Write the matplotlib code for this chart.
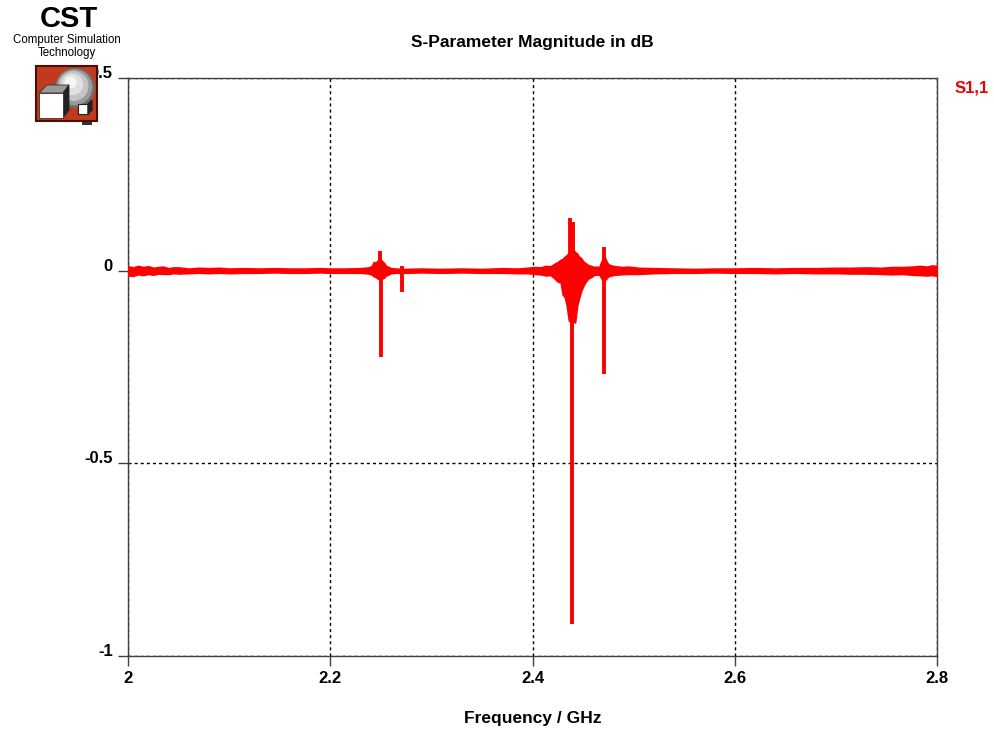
import matplotlib
matplotlib.use("Agg")
import matplotlib.pyplot as plt
from matplotlib.patches import Rectangle, Circle, Polygon

plt.rcParams['font.family'] = ['Liberation Sans', 'DejaVu Sans']

# S1,1 trace: upper / lower extent of the rapidly oscillating curve (dB)
freq_ghz = [2.000, 2.005, 2.010, 2.015, 2.020, 2.025, 2.030, 2.035, 2.040, 2.045,
            2.050, 2.060, 2.070, 2.080, 2.090, 2.100, 2.115, 2.130, 2.145, 2.160,
            2.175, 2.190, 2.200, 2.215, 2.230, 2.238, 2.2413, 2.243, 2.245, 2.247,
            2.249, 2.2515, 2.253, 2.255, 2.257, 2.260, 2.265, 2.275, 2.290, 2.310,
            2.330, 2.350, 2.370, 2.385, 2.395, 2.402, 2.408, 2.413, 2.418, 2.422,
            2.425, 2.428, 2.430, 2.432, 2.434, 2.436, 2.438, 2.440, 2.442, 2.444,
            2.446, 2.448, 2.450, 2.452, 2.455, 2.458, 2.461, 2.464, 2.466, 2.468,
            2.4695, 2.4715, 2.473, 2.475, 2.478, 2.482, 2.488, 2.495, 2.505, 2.520,
            2.540, 2.560, 2.580, 2.600, 2.620, 2.640, 2.660, 2.680, 2.700, 2.715,
            2.730, 2.745, 2.755, 2.765, 2.775, 2.783, 2.790, 2.795, 2.800]
s11_upper = [0.011, 0.008, 0.012, 0.009, 0.011, 0.007, 0.009, 0.010, 0.006, 0.008,
             0.008, 0.005, 0.007, 0.006, 0.007, 0.005, 0.006, 0.005, 0.006, 0.005,
             0.005, 0.006, 0.005, 0.005, 0.006, 0.008, 0.012, 0.022, 0.020, 0.026,
             0.030, 0.024, 0.020, 0.012, 0.010, 0.006, 0.005, 0.004, 0.005, 0.004,
             0.005, 0.004, 0.006, 0.005, 0.007, 0.009, 0.008, 0.012, 0.011, 0.018,
             0.022, 0.028, 0.030, 0.036, 0.040, 0.046, 0.050, 0.055, 0.048, 0.044,
             0.036, 0.032, 0.024, 0.020, 0.014, 0.012, 0.009, 0.010, 0.008, 0.022,
             0.030, 0.034, 0.024, 0.016, 0.013, 0.011, 0.009, 0.010, 0.007, 0.006,
             0.005, 0.004, 0.005, 0.005, 0.006, 0.005, 0.006, 0.006, 0.007, 0.007,
             0.008, 0.007, 0.009, 0.009, 0.010, 0.012, 0.010, 0.013, 0.012]
s11_lower = [-0.012, -0.013, -0.009, -0.011, -0.008, -0.010, -0.007, -0.008, -0.008, -0.006,
             -0.007, -0.006, -0.005, -0.006, -0.005, -0.006, -0.005, -0.005, -0.004, -0.005,
             -0.005, -0.004, -0.005, -0.005, -0.005, -0.007, -0.010, -0.014, -0.016, -0.020,
             -0.022, -0.020, -0.018, -0.012, -0.010, -0.006, -0.005, -0.005, -0.004, -0.005,
             -0.004, -0.005, -0.005, -0.006, -0.006, -0.008, -0.009, -0.012, -0.011, -0.020,
             -0.028, -0.030, -0.062, -0.068, -0.090, -0.128, -0.135, -0.132, -0.134, -0.090,
             -0.070, -0.052, -0.040, -0.030, -0.020, -0.016, -0.010, -0.010, -0.009, -0.018,
             -0.026, -0.024, -0.020, -0.014, -0.012, -0.010, -0.009, -0.008, -0.008, -0.006,
             -0.005, -0.005, -0.004, -0.005, -0.005, -0.006, -0.005, -0.006, -0.006, -0.007,
             -0.007, -0.008, -0.009, -0.008, -0.010, -0.011, -0.012, -0.011, -0.013]

# Narrow resonance spikes: frequency, maximum and minimum (dB)
spike_freq = [2.2492, 2.2502, 2.2710, 2.4371, 2.4389, 2.4404, 2.4705]
spike_max = [0.050, 0.020, 0.012, 0.137, 0.050, 0.127, 0.062]
spike_min = [-0.015, -0.223, -0.055, -0.100, -0.917, -0.100, -0.267]

x_ticks = [2.0, 2.2, 2.4, 2.6, 2.8]
x_tick_labels = ["2", "2.2", "2.4", "2.6", "2.8"]
y_ticks = [0.5, 0.0, -0.5, -1.0]
y_tick_labels = ["0.5", "0", "-0.5", "-1"]

W, H = 995, 734
fig = plt.figure(figsize=(W / 100, H / 100), dpi=100)
fig.patch.set_facecolor("white")

ax = fig.add_axes([128 / W, 1 - 656 / H, (937 - 128) / W, (656 - 78) / H])
ax.set_xlim(2.0, 2.8)
ax.set_ylim(-1.0, 0.5)

red = "#ff0000"
ax.fill_between(freq_ghz, s11_lower, s11_upper, color=red, linewidth=1.4,
                edgecolor=red, zorder=3)
ax.vlines(spike_freq, spike_min, spike_max, color=red, linewidth=2.8, zorder=3)

ax.set_xticks(x_ticks)
ax.set_xticklabels(x_tick_labels)
ax.set_yticks(y_ticks)
ax.set_yticklabels(y_tick_labels)
for lab in ax.get_yticklabels():
    lab.set_verticalalignment("baseline")

ax.grid(True, color="black", linestyle=(0, (2.2, 2.2)), linewidth=1.0, zorder=1)
ax.set_axisbelow(True)
ax.tick_params(direction="out", length=7, width=1, color="#404040",
               labelsize=12, pad=4)
for lab in ax.get_xticklabels() + ax.get_yticklabels():
    lab.set_fontweight("bold")
for sp in ax.spines.values():
    sp.set_color("#404040")
    sp.set_linewidth(1.0)

ax.set_title("S-Parameter Magnitude in dB", fontsize=12.5, fontweight="bold", pad=22)
ax.set_xlabel("Frequency / GHz", fontsize=12.5, fontweight="bold", labelpad=18)

fig.text(955 / W, 1 - 88 / H, "S1,1", color="#f00000", fontsize=12, fontweight="bold",
         ha="left", va="center")

# Company logo in pixel coordinates
lg = fig.add_axes([0, 0, 1, 1], zorder=10)
lg.set_xlim(0, W)
lg.set_ylim(H, 0)
lg.set_axis_off()
lg.patch.set_alpha(0)

lg.text(69, 19, "CST", fontsize=21, fontweight="bold", ha="center", va="center")
lg.text(67, 40, "Computer Simulation", fontsize=8.3, ha="center", va="center")
lg.text(67, 53, "Technology", fontsize=8.3, ha="center", va="center")

lg.add_patch(Rectangle((36, 66), 61, 55, facecolor="#c23a1c", edgecolor="#4a0e04",
                       linewidth=1.5))
for r, c in [(20, "#6e6e6e"), (18, "#9a9a9a"), (15, "#c4c4c4"), (11, "#e0e0e0"),
             (6, "#f6f6f6")]:
    lg.add_patch(Circle((75 - (20 - r) * 0.3, 88 - (20 - r) * 0.4), r,
                        facecolor=c, edgecolor="none"))
lg.add_patch(Polygon([(39, 93), (47, 85), (69, 85), (63, 93)], closed=True,
                     facecolor="#9a9a9a", edgecolor="#333333", linewidth=0.6))
lg.add_patch(Polygon([(63, 93), (69, 85), (69, 110), (63, 118)], closed=True,
                     facecolor="#222222", edgecolor="#222222", linewidth=0.6))
lg.add_patch(Rectangle((39, 93), 24, 25, facecolor="white", edgecolor="#333333",
                       linewidth=0.6))
lg.add_patch(Rectangle((78, 104), 10, 10, facecolor="white", edgecolor="#222222",
                       linewidth=0.8))
lg.add_patch(Polygon([(88, 104), (92, 100), (92, 110), (88, 114)], closed=True,
                     facecolor="#222222", edgecolor="#222222"))
lg.add_patch(Rectangle((82, 122), 10, 3, facecolor="#333333", edgecolor="none"))

fig.savefig("out.png", dpi=100, facecolor="white")
